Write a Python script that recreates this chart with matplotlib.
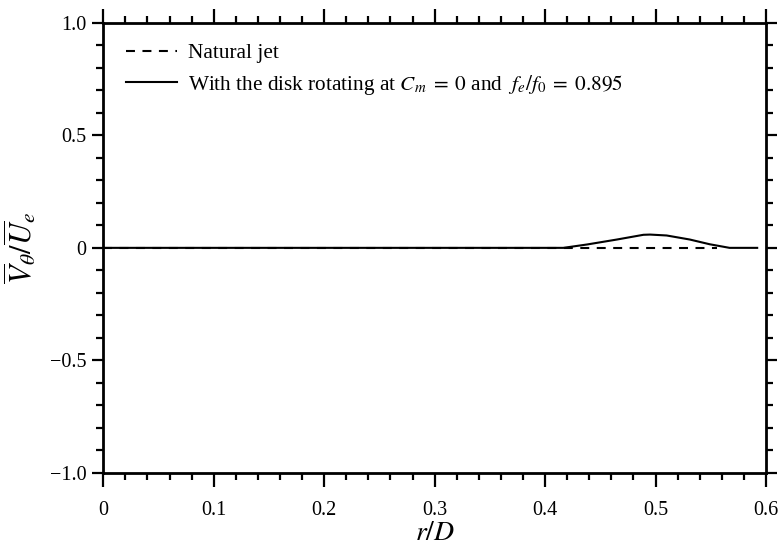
import matplotlib
matplotlib.use("Agg")
import matplotlib.pyplot as plt
from matplotlib.ticker import MultipleLocator

plt.rcParams["font.family"] = ["Liberation Serif", "DejaVu Serif"]
plt.rcParams["mathtext.fontset"] = "stix"

# -----------------------------
# Data
# -----------------------------
r_natural = [0.0, 0.1, 0.2, 0.3, 0.4, 0.45, 0.5, 0.55, 0.556]
v_natural = [0.0, 0.0, 0.0, 0.0, 0.0, 0.0, 0.0, 0.0, 0.0]

r_disk = [0.0, 0.1, 0.2, 0.3, 0.4, 0.4165, 0.438, 0.465, 0.489, 0.495,
          0.510, 0.531, 0.549, 0.567, 0.592]
v_disk = [0.0, 0.0, 0.0, 0.0, 0.0, 0.0, 0.015, 0.037, 0.058, 0.059,
          0.055, 0.037, 0.016, 0.0, 0.0]

label_natural = "Natural jet"
label_disk = (r"With the disk rotating at $C_m\;=\;0$ and "
              r"$\ f_e/f_0\;=\;0.895$")

x_ticks = [0, 0.1, 0.2, 0.3, 0.4, 0.5, 0.6]
x_ticklabels = ["0", "0.1", "0.2", "0.3", "0.4", "0.5", "0.6"]
y_ticks = [-1.0, -0.5, 0, 0.5, 1.0]
y_ticklabels = ["\u22121.0", "\u22120.5", "0", "0.5", "1.0"]

# -----------------------------
# Plot
# -----------------------------
fig = plt.figure(figsize=(7.78, 5.5), dpi=100)
ax = fig.add_axes([0.1328, 0.14, 0.8518, 0.8187])

ax.plot(r_natural, v_natural, color="black", lw=1.5, dashes=(4.3, 3.6),
        label=label_natural)
ax.plot(r_disk, v_disk, color="black", lw=1.5, label=label_disk)

ax.set_xlim(0, 0.6)
ax.set_ylim(-1.0, 1.0)
ax.set_xticks(x_ticks)
ax.set_xticklabels(x_ticklabels)
ax.set_yticks(y_ticks)
ax.set_yticklabels(y_ticklabels)
ax.xaxis.set_minor_locator(MultipleLocator(0.02))
ax.yaxis.set_minor_locator(MultipleLocator(0.1))

ax.tick_params(which="both", top=True, right=True, direction="out",
               labelsize=14.5, width=1.6, color="black")
ax.tick_params(axis="x", which="major", length=10, pad=10)
ax.tick_params(axis="y", which="major", length=8, pad=4)
ax.tick_params(which="minor", length=5)
for s in ax.spines.values():
    s.set_linewidth(2.0)

ax.set_xlabel(r"$r/D$", fontsize=20, labelpad=1)
ax.set_ylabel(r"$\overline{V}_\theta/\overline{U}_e$", fontsize=22, labelpad=8)

ax.legend(loc="upper left", frameon=False, fontsize=15.3, handlelength=2.4,
          handletextpad=0.5, labelspacing=0.45, borderaxespad=0.3,
          bbox_to_anchor=(0.012, 0.987))

fig.savefig("out.png", dpi=100)
